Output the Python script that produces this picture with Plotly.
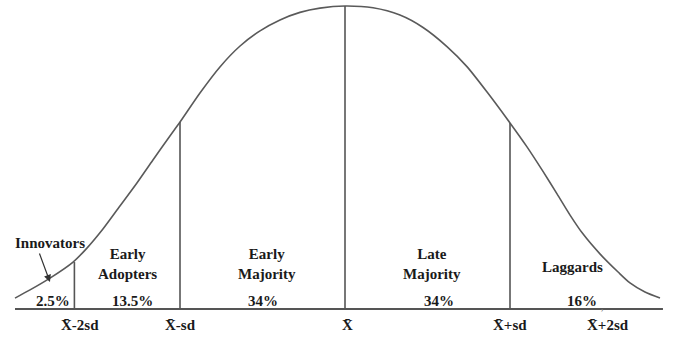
import plotly.graph_objects as go

# Curve: x in standard-deviation units from the mean, y relative height (peak = 1)
curve_x = [-2.0, -1.909, -1.788, -1.648, -1.564, -1.467, -1.364, -1.261, -1.164, -1.061, -1.0,
           -0.879, -0.758, -0.636, -0.515, -0.394, -0.273, -0.152, 0.0,
           0.170, 0.333, 0.473, 0.618, 0.739, 0.861, 1.0, 1.103, 1.2, 1.285, 1.364, 1.442,
           1.545, 1.655, 1.727, 1.818, 1.909]
curve_y = [0.036, 0.063, 0.102, 0.155, 0.201, 0.264, 0.340, 0.416, 0.492, 0.571, 0.617,
           0.713, 0.799, 0.868, 0.918, 0.954, 0.979, 0.993, 1.0,
           0.994, 0.970, 0.929, 0.866, 0.800, 0.716, 0.614, 0.535, 0.454, 0.380, 0.310, 0.248,
           0.182, 0.122, 0.086, 0.056, 0.036]

# Dividing lines
divider_x = [-1.64, -1.0, 0.0, 1.0]
divider_top = [0.155, 0.617, 1.0, 0.614]

axis_x = [-2.0, 1.927]

categories = ["Innovators", "Early<br>Adopters", "Early<br>Majority", "Late<br>Majority", "Laggards"]
cat_x = [-1.788, -1.321, -0.473, 0.527, 1.376]
cat_y = [0.218, 0.149, 0.149, 0.149, 0.139]

shares = ["2.5%", "13.5%", "34%", "34%", "16%"]
share_x = [-1.770, -1.285, -0.497, 0.570, 1.436]

tick_labels = ["X\u0304-2sd", "X\u0304-sd", "X\u0304", "X\u0304+sd", "X\u0304+2sd"]
tick_x = [-1.606, -0.994, 0.018, 1.0, 1.594]

line_col = "#555555"
text_col = "#1a1a1a"
serif = "Liberation Serif, Times New Roman, serif"
font = dict(family=serif, size=15, color=text_col)

fig = go.Figure()
fig.add_trace(go.Scatter(x=curve_x, y=curve_y, mode="lines",
                         line=dict(color="#5a5a5a", width=1.6, shape="spline", smoothing=0.7),
                         hoverinfo="skip"))
fig.add_trace(go.Scatter(x=axis_x, y=[0, 0], mode="lines", line=dict(color=line_col, width=1.8), hoverinfo="skip"))
for dx, dt in zip(divider_x, divider_top):
    fig.add_trace(go.Scatter(x=[dx, dx], y=[0, dt], mode="lines", line=dict(color=line_col, width=1.6),
                             hoverinfo="skip"))

anns = []
for t, x, y in zip(categories, cat_x, cat_y):
    anns.append(dict(x=x, y=y, text="<b>%s</b>" % t, showarrow=False, font=font, xanchor="center", yanchor="middle"))
for t, x in zip(shares, share_x):
    anns.append(dict(x=x, y=0.026, text="<b>%s</b>" % t, showarrow=False, font=font, xanchor="center", yanchor="middle"))
anns.append(dict(x=1.559, y=0.008, text="<b>,</b>", showarrow=False, font=dict(family=serif, size=9, color="#777"),
                 xanchor="center", yanchor="middle"))
for t, x in zip(tick_labels, tick_x):
    anns.append(dict(x=x, y=-0.053, text="<b>%s</b>" % t, showarrow=False, font=font, xanchor="center", yanchor="middle"))
# arrow from "Innovators" to the tail of the curve
anns.append(dict(x=-1.788, y=0.089, ax=-1.855, ay=0.188, axref="x", ayref="y", text="", showarrow=True,
                 arrowhead=2, arrowsize=1.2, arrowwidth=1.2, arrowcolor="#333"))

fig.update_layout(
    width=677, height=342, margin=dict(l=0, r=0, t=0, b=0),
    paper_bgcolor="white", plot_bgcolor="white", showlegend=False,
    xaxis=dict(range=[-2.0909, 2.0121], visible=False, fixedrange=True),
    yaxis=dict(range=[-0.1089, 1.0198], visible=False, fixedrange=True),
    annotations=anns,
)
fig.write_html("out.html")
